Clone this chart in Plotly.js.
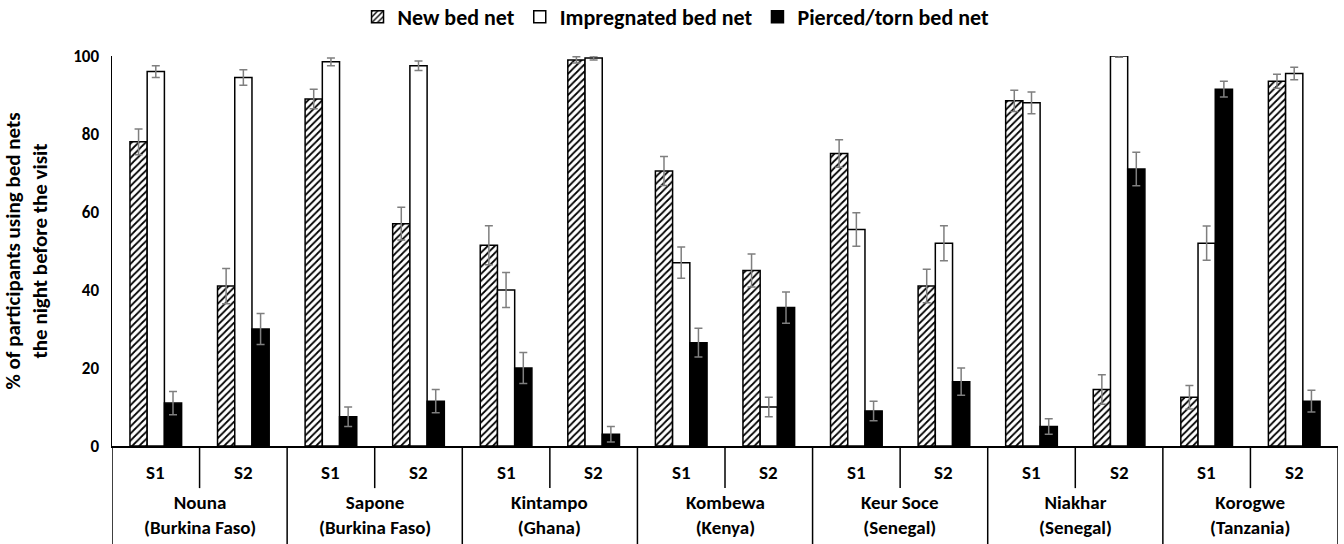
<!DOCTYPE html>
<html>
<head>
<meta charset="utf-8">
<script src="https://cdn.plot.ly/plotly-3.0.1.min.js"></script>
<style>html,body{margin:0;padding:0;background:#fff;}#chart{width:1344px;height:544px;}</style>
</head>
<body>
<div id="chart"></div>
<script>
const sites = ["Nouna<br>(Burkina Faso)", "Sapone<br>(Burkina Faso)", "Kintampo<br>(Ghana)", "Kombewa<br>(Kenya)", "Keur Soce<br>(Senegal)", "Niakhar<br>(Senegal)", "Korogwe<br>(Tanzania)"];
const sessions = ["S1", "S2"];
const seriesNames = ["New bed net", "Impregnated bed net", "Pierced/torn bed net"];

const newNet      = [78, 41, 89, 57, 51.5, 99, 70.5, 45, 75, 41, 88.5, 14.5, 12.5, 93.5];
const newNetErr   = [3.3, 4.5, 2.5, 4.2, 5, 0.8, 3.7, 4.2, 3.5, 4.3, 2.7, 3.8, 3, 1.8];
const impNet      = [96, 94.5, 98.5, 97.5, 40, 99.5, 47, 10, 55.5, 52, 88, 100, 52, 95.5];
const impNetErr   = [1.5, 2, 1, 1.2, 4.5, 0.5, 4, 2.5, 4.3, 4.5, 2.8, 0.3, 4.4, 1.6];
const pierced     = [11, 30, 7.5, 11.5, 20, 3, 26.5, 35.5, 9, 16.5, 5, 71, 91.5, 11.5];
const piercedErr  = [3, 4, 2.5, 3, 4, 2, 3.7, 4, 2.5, 3.5, 2, 4.3, 2, 2.8];

const cats = [];
sites.forEach((s, i) => sessions.forEach(p => cats.push(s.split("<br>")[0] + " " + p)));

const FONT = "Carlito, Lato, sans-serif";
const errStyle = {type: "data", visible: true, color: "#7f7f7f", thickness: 1.5, width: 4};

function mk(name, y, err, fill, pattern) {
  const t = {
    type: "bar", name: name, x: cats, y: y,
    error_y: Object.assign({array: err}, errStyle),
    marker: {color: fill, line: {color: "black", width: 1.5}},
    cliponaxis: false
  };
  if (pattern) t.marker.pattern = pattern;
  return t;
}

const data = [
  mk(seriesNames[0], newNet, newNetErr, "white", {shape: "/", fgcolor: "black", bgcolor: "white", size: 5, solidity: 0.35}),
  mk(seriesNames[1], impNet, impNetErr, "white", null),
  mk(seriesNames[2], pierced, piercedErr, "black", null)
];

const shapes = [];
const annotations = [];
const n = cats.length;
for (let i = 0; i < sites.length; i++) {
  shapes.push({type: "line", xref: "x", yref: "paper", x0: 2*i + 0.5, x1: 2*i + 0.5, y0: 0, y1: -0.108, line: {color: "black", width: 1.5}});
}
for (let i = 0; i <= sites.length; i++) {
  shapes.push({type: "line", xref: "x", yref: "paper", x0: 2*i - 0.5, x1: 2*i - 0.5, y0: 0, y1: -0.3, line: {color: "black", width: 1.5}});
}
cats.forEach((c, i) => {
  annotations.push({xref: "x", yref: "paper", x: i, y: -0.069, text: sessions[i % 2], showarrow: false,
    font: {family: FONT, size: 19, color: "black", weight: "bold"}, yanchor: "middle"});
});
sites.forEach((s, i) => {
  annotations.push({xref: "x", yref: "paper", x: 2*i + 0.5, y: -0.178, text: s, showarrow: false,
    font: {family: FONT, size: 19, color: "black", weight: "bold"}, yanchor: "middle"});
});

const layout = {
  width: 1344, height: 544,
  margin: {l: 112, r: 6, t: 56, b: 98},
  paper_bgcolor: "white", plot_bgcolor: "white",
  barmode: "group", bargap: 0.41, bargroupgap: 0,
  showlegend: true,
  legend: {orientation: "h", xref: "container", yref: "container", x: 0.503, xanchor: "center", y: 1 - 17/544, yanchor: "middle",
    font: {family: FONT, size: 22, color: "black", weight: "bold"}, traceorder: "normal", itemwidth: 30},
  xaxis: {type: "category", showticklabels: false, ticks: "", showgrid: false, zeroline: false,
    showline: true, linecolor: "black", linewidth: 1.5, range: [-0.5, n - 0.5], fixedrange: true},
  yaxis: {range: [0, 100], dtick: 20, showgrid: false, zeroline: false, showline: true, linecolor: "black", linewidth: 1.5,
    ticks: "", tickfont: {family: FONT, size: 17, color: "black", weight: "bold"}, ticklabelstandoff: 8,
    title: {text: "% of participants using bed nets<br>the night before the visit", font: {family: FONT, size: 21, color: "black", weight: "bold"}, standoff: 22}},
  shapes: shapes,
  annotations: annotations
};

Plotly.newPlot("chart", data, layout, {displayModeBar: false, staticPlot: true});
</script>
</body>
</html>
